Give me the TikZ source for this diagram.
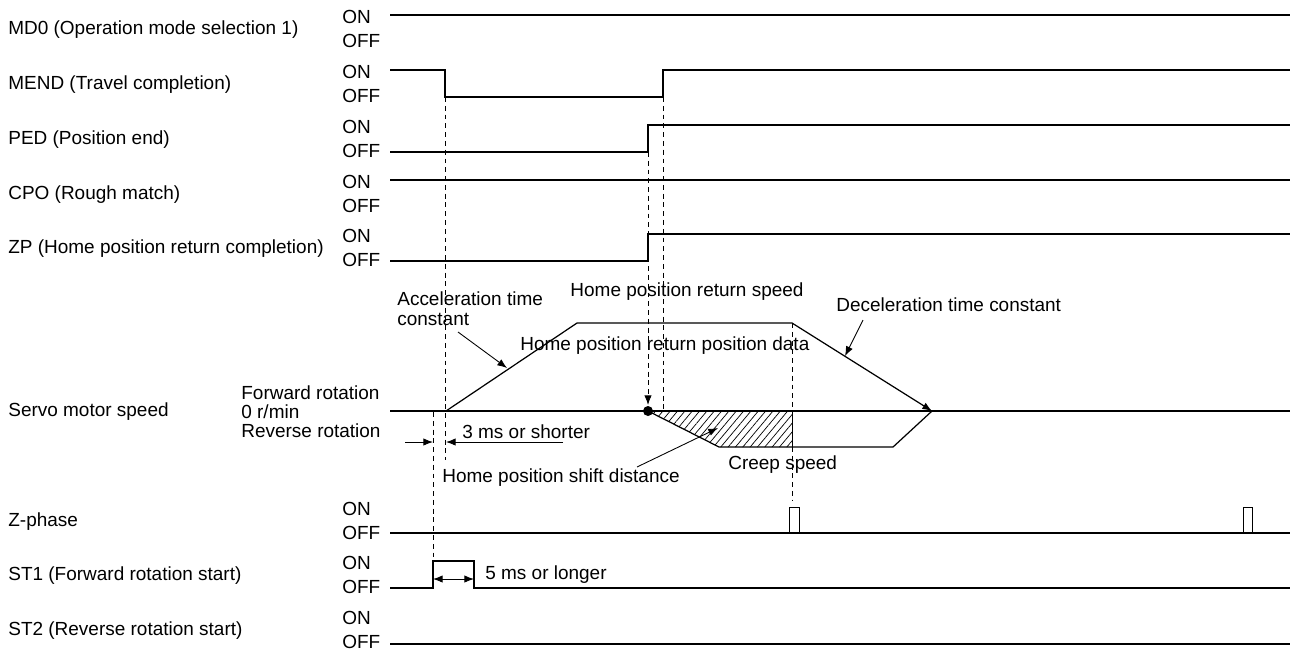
\documentclass[tikz,border=0pt]{standalone}
\usepackage{fontspec}
\setmainfont{Liberation Sans}
\usetikzlibrary{arrows.meta, patterns.meta}

\begin{document}
\begin{tikzpicture}[
    x=0.02cm, y=-0.02cm,
    font=\fontsize{10.8}{11.4}\selectfont,
    >={Latex[length=5.5pt,width=4.2pt]},
    wave/.style={line width=0.7pt},
    guide/.style={line width=0.5pt, dash pattern=on 2.8pt off 2.2pt},
    pointer/.style={line width=0.5pt, ->},
    signame/.style={anchor=west, inner sep=0pt},
    level/.style={anchor=west, inner sep=0pt},
    note/.style={anchor=west, inner sep=0pt, align=left}
]
\useasboundingbox (0,0) rectangle (1293,650);

% Signal names and ON/OFF levels
\foreach \name/\txt/\yon in {
    md/MD0 (Operation mode selection 1)/15,
    mend/MEND (Travel completion)/70,
    ped/PED (Position end)/125,
    cpo/CPO (Rough match)/180,
    zp/ZP (Home position return completion)/234,
    zph/Z-phase/507,
    sta/ST1 (Forward rotation start)/561,
    stb/ST2 (Reverse rotation start)/616}
{
    \node[signame] (\name) at (8,\yon+15) {\txt};
    \node[level] (\name on) at (342,\yon+2) {ON};
    \node[level] (\name off) at (342,\yon+26) {OFF};
}
\node[signame] (servo) at (8,412) {Servo motor speed};
\node[note] (fwd) at (241,393) {Forward rotation};
\node[note] (zero) at (241,412) {0 r/min};
\node[note] (rev) at (241,431) {Reverse rotation};

% Waveforms
\draw[wave] (390,15) -- (1290,15);
\draw[wave] (390,70) -- (445,70) -- (445,97) -- (663,97) -- (663,70) -- (1290,70);
\draw[wave] (390,152) -- (648,152) -- (648,125) -- (1290,125);
\draw[wave] (390,180) -- (1290,180);
\draw[wave] (390,261) -- (648,261) -- (648,234) -- (1290,234);
\draw[wave] (390,533) -- (1290,533);
\draw[line width=0.5pt] (789,533) rectangle (799,507);
\draw[line width=0.5pt] (1243,533) rectangle (1252,507);
\draw[wave] (390,588) -- (433,588) -- (433,561) -- (474,561) -- (474,588) -- (1290,588);
\draw[wave] (390,644) -- (1290,644);

% Servo motor speed
\coordinate (accstart) at (446,411);
\coordinate (acctop) at (577,323);
\coordinate (dectop) at (792,323);
\coordinate (decend) at (932,411);
\coordinate (home) at (648,411);
\coordinate (creepa) at (719,447);
\coordinate (creepz) at (792,447);
\coordinate (creepb) at (893,447);

\fill[pattern={Lines[angle=50, distance=3.2pt, line width=0.4pt]}]
    (home) -- (creepa) -- (creepz) -- (792,411) -- cycle;
\draw[wave] (390,411) -- (1290,411);
\draw[wave, ->] (accstart) -- (acctop) -- (dectop) -- (decend);
\draw[wave] (home) -- (creepa) -- (creepb) -- (decend);
\draw[line width=0.5pt] (792,411) -- (creepz);
\fill (home) circle (5);

% Dashed guides
\draw[guide] (445,97) -- (445,460);
\draw[guide] (663,97) -- (663,411);
\draw[guide, ->] (648,152) -- (648,405);
\draw[guide] (433,412) -- (433,561);
\draw[guide] (dectop) -- (792,411);
\draw[guide] (creepz) -- (792,500);

% Annotations
\node[note] (acctxt) at (397,309) {Acceleration time\\constant};
\node (spdtxt) at (687,292) {Home position return speed};
\node[note] (dectxt) at (836,305) {Deceleration time constant};
\node[note] (datatxt) at (520,346) {Home position return position data};
\node[note] (shorttxt) at (462,432) {3 ms or shorter};
\node[note] (shifttxt) at (442,478) {Home position shift distance};
\node[note] (creeptxt) at (728,465) {Creep speed};
\node[note] (longtxt) at (485,575) {5 ms or longer};

\coordinate (accfrom) at (458,332);
\coordinate (accto) at (507,368);
\coordinate (decfrom) at (863,320);
\coordinate (decto) at (845,356);
\coordinate (shiftfrom) at (637,467);
\coordinate (shiftto) at (718,428);
\draw[pointer] (accfrom) -- (accto);
\draw[pointer] (decfrom) -- (decto);
\draw[pointer] (shiftfrom) -- (shiftto);

% Time intervals
\draw[pointer] (405,442) -- (433,442);
\draw[pointer] (563,442) -- (446,442);
\draw[line width=0.5pt, <->] (433,579) -- (474,579);

\end{tikzpicture}
\end{document}
